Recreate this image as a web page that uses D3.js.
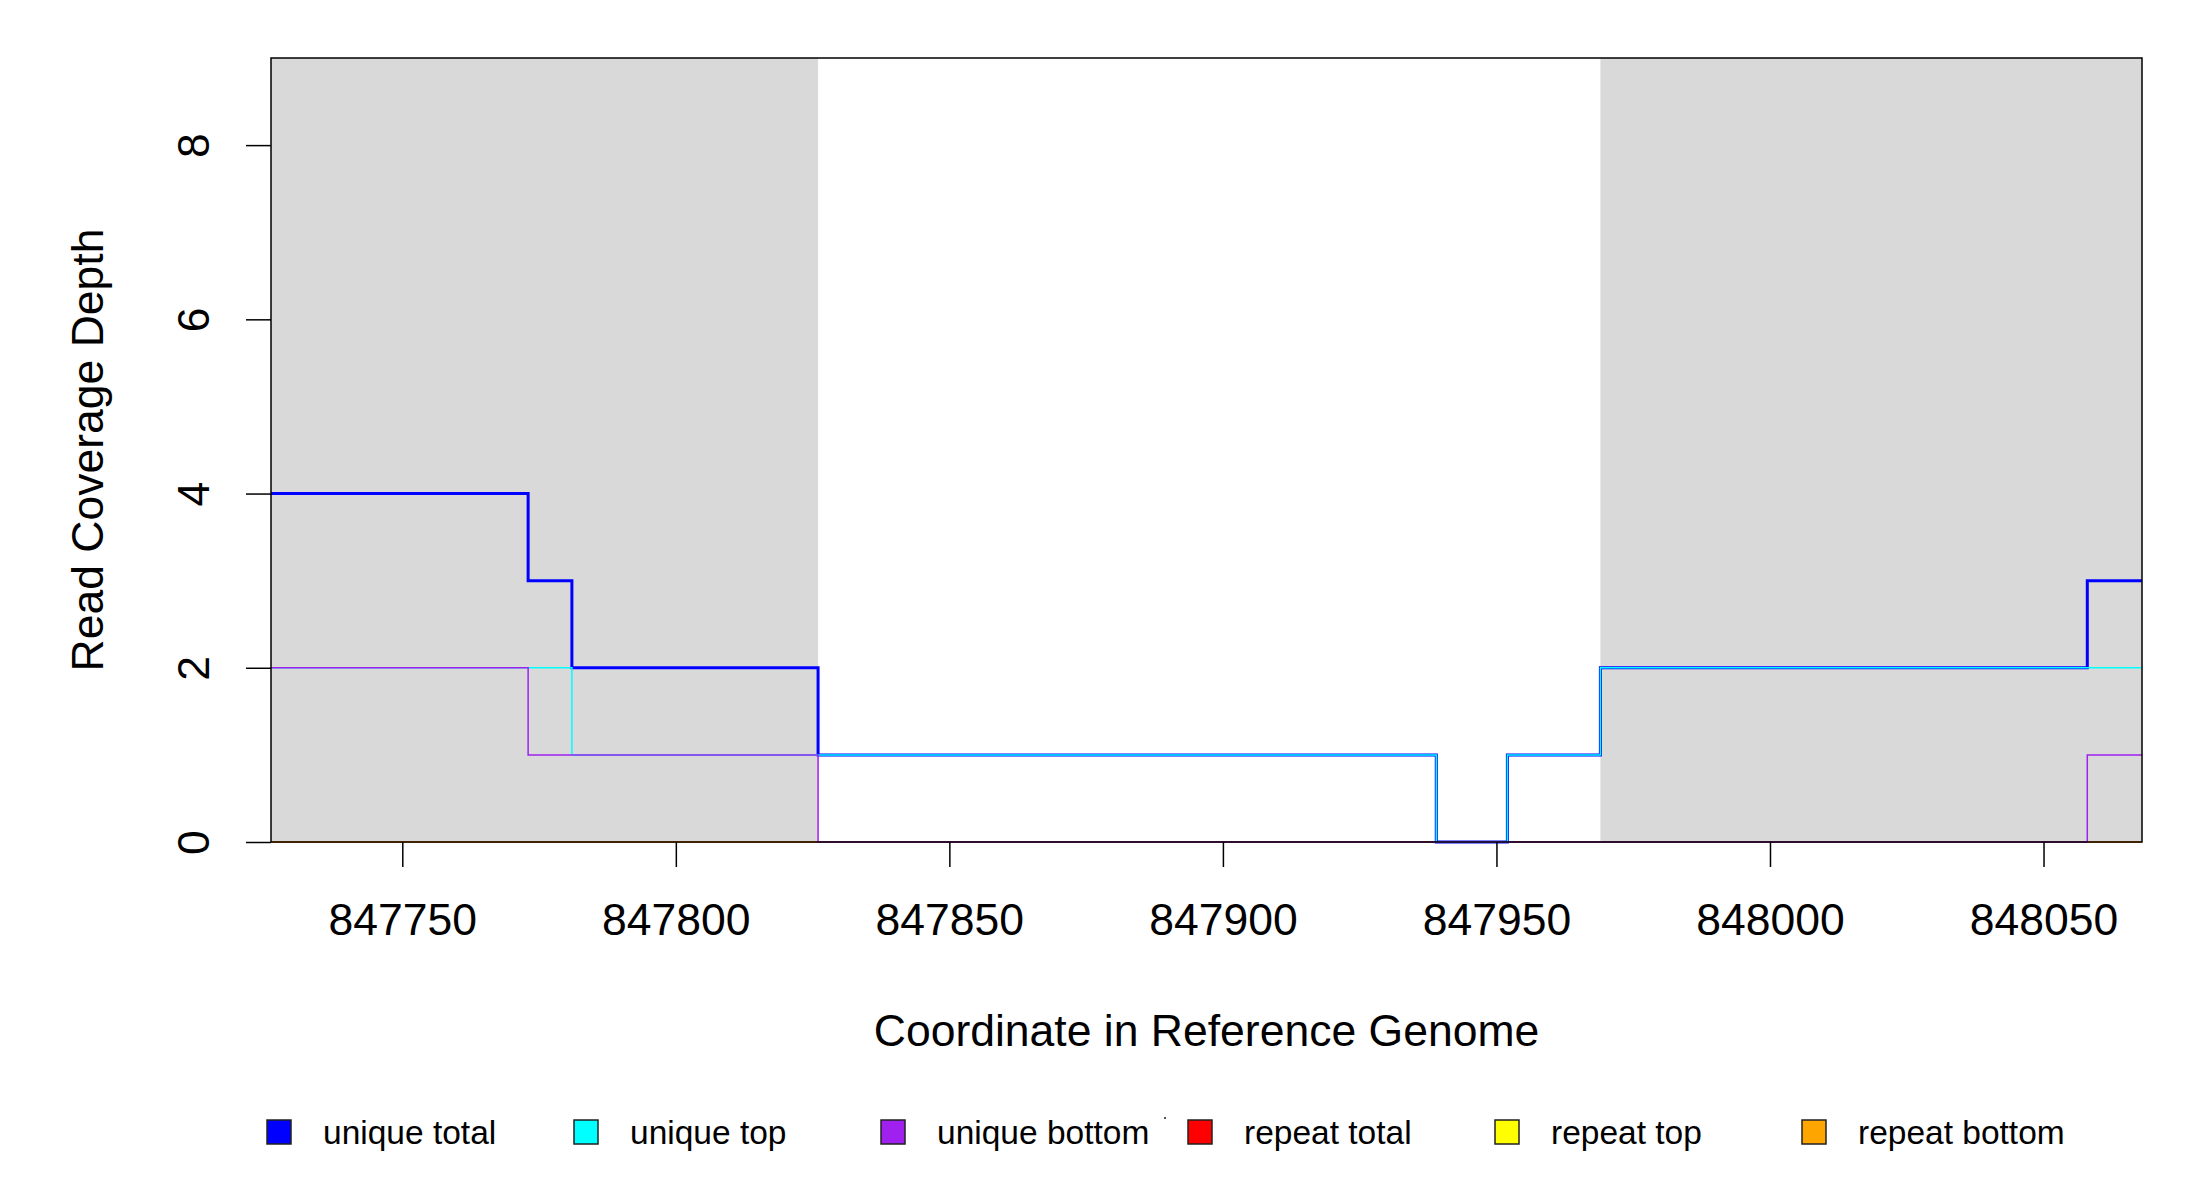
<!DOCTYPE html>
<html>
<head>
<meta charset="utf-8">
<script src="https://cdn.jsdelivr.net/npm/d3@7"></script>
<style>
  body { margin: 0; background: #fff; }
  svg { display: block; font-family: "Liberation Sans", Arial, sans-serif; }
</style>
</head>
<body>
<div id="chart"></div>
<script>
// step starts (genome coordinate), each value holds until the next start
const stepStarts = [847726, 847773, 847781, 847826, 847939, 847952, 847969, 848058];
const stepEnd = 848068;

const uniqueTotal  = [4, 3, 2, 1, 0, 1, 2, 3];
const uniqueTop    = [2, 2, 1, 1, 0, 1, 2, 2];
const uniqueBottom = [2, 1, 1, 0, 0, 0, 0, 1];
const repeatTotal  = [0, 0, 0, 0, 0, 0, 0, 0];
const repeatTop    = [0, 0, 0, 0, 0, 0, 0, 0];
const repeatBottom = [0, 0, 0, 0, 0, 0, 0, 0];

// shaded regions [start, end]
const shadedRegions = [[847726, 847826], [847969, 848068]];

const xTicks = [847750, 847800, 847850, 847900, 847950, 848000, 848050];
const yTicks = [0, 2, 4, 6, 8];

const seriesNames = ["unique total", "unique top", "unique bottom", "repeat total", "repeat top", "repeat bottom"];
const seriesColors = ["#0000ff", "#00ffff", "#a020f0", "#ff0000", "#ffff00", "#ffa500"];

const width = 2200, height = 1200;
const margin = { top: 58, right: 58, bottom: 358, left: 271 };

const svg = d3.select("#chart").append("svg")
    .attr("width", width)
    .attr("height", height);

const x = d3.scaleLinear()
    .domain([847726, 848068])
    .range([margin.left, width - margin.right]);

const y = d3.scaleLinear()
    .domain([0, 9])
    .range([height - margin.bottom, margin.top]);

// shaded background
svg.selectAll("rect.shade")
    .data(shadedRegions)
    .enter()
    .append("rect")
    .attr("class", "shade")
    .attr("x", d => x(d[0]))
    .attr("width", d => x(d[1]) - x(d[0]))
    .attr("y", y(9))
    .attr("height", y(0) - y(9))
    .attr("fill", "#d9d9d9");

// step lines
const seriesValues = [uniqueTotal, uniqueTop, uniqueBottom, repeatTotal, repeatTop, repeatBottom];
const lineWidths = [3, 1.5, 1.5, 1.5, 1.5, 1.5];
const drawOrder = [4, 3, 5, 0, 1, 2];

const line = d3.line()
    .x(d => x(d[0]))
    .y(d => y(d[1]))
    .curve(d3.curveStepAfter);

drawOrder.forEach(i => {
    const vals = seriesValues[i];
    const pts = stepStarts.map((s, j) => [s, vals[j]]);
    pts.push([stepEnd, vals[vals.length - 1]]);
    svg.append("path")
        .datum(pts)
        .attr("fill", "none")
        .attr("stroke", seriesColors[i])
        .attr("stroke-width", lineWidths[i])
        .attr("d", line);
});

// box around the plot
svg.append("rect")
    .attr("x", x.range()[0])
    .attr("y", y(9))
    .attr("width", x.range()[1] - x.range()[0])
    .attr("height", y(0) - y(9))
    .attr("fill", "none")
    .attr("stroke", "#000")
    .attr("stroke-width", 1.5);

// x axis
const xAxis = svg.append("g")
    .attr("transform", `translate(0,${y(0)})`)
    .call(d3.axisBottom(x).tickValues(xTicks).tickSize(25).tickPadding(36).tickFormat(d3.format("d")));
xAxis.select(".domain").remove();
xAxis.selectAll("line").attr("stroke", "#000").attr("stroke-width", 1.5);
xAxis.selectAll("text").attr("font-size", 44.5).attr("fill", "#000")
    .attr("font-family", "Liberation Sans, Arial, sans-serif");

// y axis
const yAxis = svg.append("g")
    .attr("transform", `translate(${x.range()[0]},0)`)
    .call(d3.axisLeft(y).tickValues(yTicks).tickSize(25).tickPadding(0));
yAxis.select(".domain").remove();
yAxis.selectAll("line").attr("stroke", "#000").attr("stroke-width", 1.5);
yAxis.selectAll("text").remove();
yAxis.selectAll(".tick").append("text")
    .attr("transform", "translate(-78,0) rotate(-90)")
    .attr("text-anchor", "middle")
    .attr("dy", "0.35em")
    .attr("font-size", 44.5)
    .attr("fill", "#000")
    .text(d => d);

// axis titles
svg.append("text")
    .attr("x", (x.range()[0] + x.range()[1]) / 2)
    .attr("y", 1046)
    .attr("text-anchor", "middle")
    .attr("font-size", 44.5)
    .text("Coordinate in Reference Genome");

svg.append("text")
    .attr("transform", `translate(103,${(y(0) + y(9)) / 2}) rotate(-90)`)
    .attr("text-anchor", "middle")
    .attr("font-size", 44.5)
    .text("Read Coverage Depth");

// legend
const legend = svg.append("g")
    .attr("transform", "translate(279,1132)");

const legendItems = legend.selectAll("g")
    .data(seriesNames)
    .enter()
    .append("g")
    .attr("transform", (d, i) => `translate(${i * 307},0)`);

legendItems.append("rect")
    .attr("x", -12)
    .attr("y", -12)
    .attr("width", 24)
    .attr("height", 24)
    .attr("fill", (d, i) => seriesColors[i])
    .attr("stroke", "#222")
    .attr("stroke-width", 1.5);

legendItems.append("text")
    .attr("x", 44)
    .attr("dy", "0.35em")
    .attr("font-size", 33.5)
    .text(d => d);

// tiny stray mark next to the legend
svg.append("rect")
    .attr("x", 1164)
    .attr("y", 1117)
    .attr("width", 2)
    .attr("height", 2)
    .attr("fill", "#555");
</script>
</body>
</html>
